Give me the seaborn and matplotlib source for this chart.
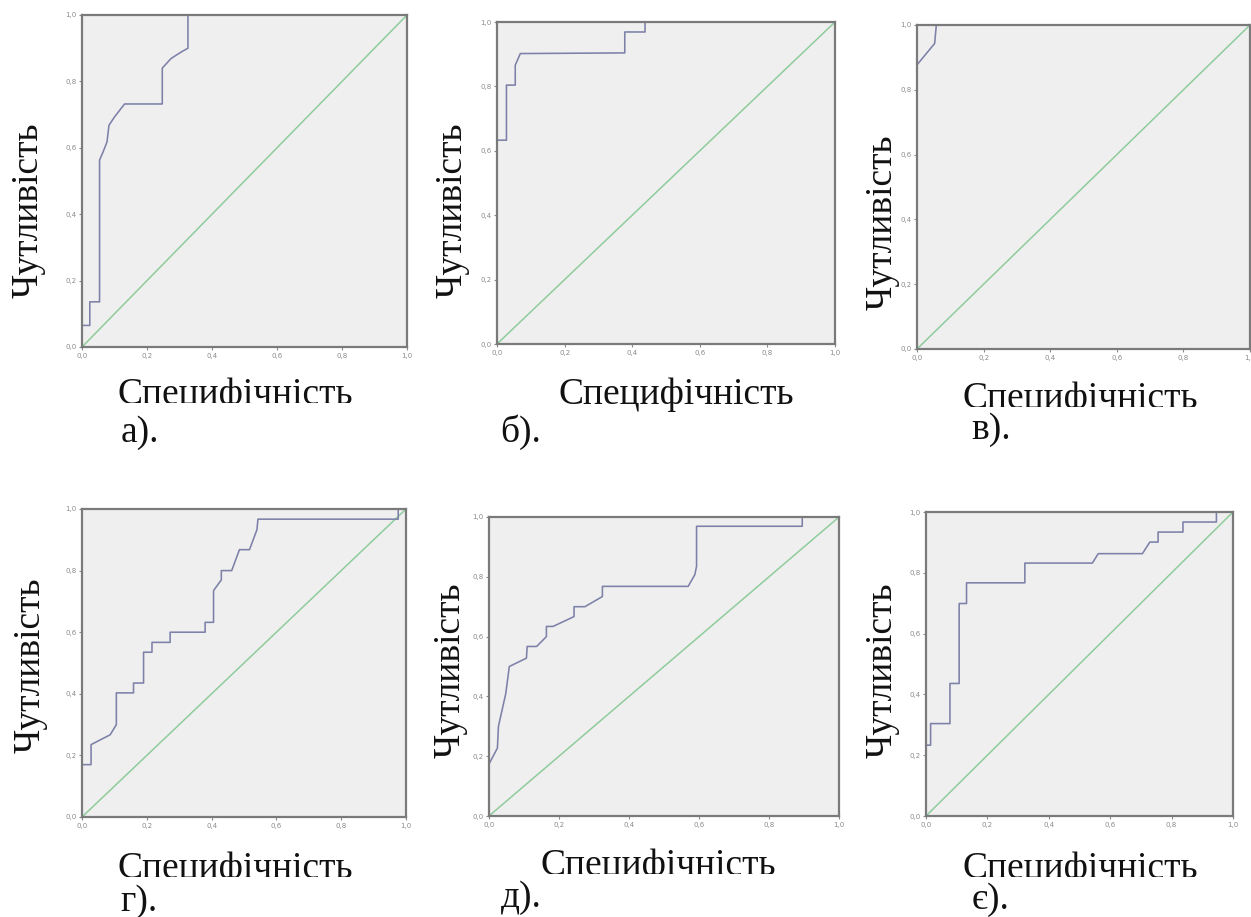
import matplotlib
matplotlib.use("Agg")
import matplotlib.pyplot as plt
import matplotlib.ticker as mticker
from matplotlib.transforms import Bbox
import numpy as np
import pandas as pd
import seaborn as sns

# ROC-криві (1 - специфічність, чутливість)
fpr_a = [0.0, 0.0, 0.024, 0.024, 0.054, 0.054, 0.065, 0.077, 0.083, 0.100, 0.131, 0.247, 0.247, 0.274, 0.306, 0.326, 0.326, 1.0]
tpr_a = [0.0, 0.065, 0.065, 0.136, 0.136, 0.563, 0.588, 0.618, 0.668, 0.693, 0.732, 0.732, 0.840, 0.869, 0.889, 0.900, 1.0, 1.0]

fpr_b = [0.0, 0.0, 0.028, 0.028, 0.054, 0.054, 0.069, 0.378, 0.378, 0.438, 0.438, 1.0]
tpr_b = [0.0, 0.633, 0.633, 0.804, 0.804, 0.866, 0.902, 0.904, 0.969, 0.969, 1.0, 1.0]

fpr_v = [0.0, 0.0, 0.053, 0.058, 1.0]
tpr_v = [0.0, 0.877, 0.943, 1.0, 1.0]

fpr_g = [0.0, 0.0, 0.028, 0.028, 0.087, 0.106, 0.106, 0.159, 0.159, 0.190, 0.190, 0.216, 0.216,
         0.272, 0.272, 0.380, 0.380, 0.406, 0.406, 0.430, 0.430, 0.462, 0.486, 0.517, 0.540, 0.543,
         0.976, 0.976, 1.0]
tpr_g = [0.0, 0.170, 0.170, 0.235, 0.267, 0.300, 0.403, 0.403, 0.435, 0.435, 0.535, 0.535, 0.567,
         0.567, 0.600, 0.600, 0.632, 0.632, 0.735, 0.770, 0.800, 0.800, 0.868, 0.868, 0.933, 0.967,
         0.967, 1.0, 1.0]

fpr_d = [0.0, 0.0, 0.024, 0.027, 0.048, 0.058, 0.107, 0.109, 0.136, 0.164, 0.164, 0.183, 0.243,
         0.243, 0.274, 0.324, 0.324, 0.569, 0.588, 0.593, 0.593, 0.895, 0.895, 1.0]
tpr_d = [0.0, 0.174, 0.227, 0.300, 0.410, 0.500, 0.528, 0.567, 0.567, 0.600, 0.634, 0.634, 0.667,
         0.700, 0.700, 0.734, 0.768, 0.768, 0.807, 0.835, 0.969, 0.969, 1.0, 1.0]

fpr_e = [0.0, 0.0, 0.015, 0.015, 0.078, 0.078, 0.108, 0.108, 0.132, 0.132, 0.322, 0.322, 0.542,
         0.561, 0.705, 0.729, 0.756, 0.756, 0.837, 0.837, 0.946, 0.946, 1.0]
tpr_e = [0.0, 0.233, 0.233, 0.304, 0.304, 0.436, 0.436, 0.699, 0.699, 0.767, 0.767, 0.832, 0.832,
         0.863, 0.863, 0.901, 0.901, 0.934, 0.934, 0.967, 0.967, 1.0, 1.0]

panel_labels = ["а).", "б).", "в).", "г).", "д).", "є)."]
curves = [(fpr_a, tpr_a), (fpr_b, tpr_b), (fpr_v, tpr_v),
          (fpr_g, tpr_g), (fpr_d, tpr_d), (fpr_e, tpr_e)]
ticks = [0.0, 0.2, 0.4, 0.6, 0.8, 1.0]

# положення осей у пікселях: лівий, правий, верх, низ
W, H = 1251, 917
boxes = [(82, 407, 15, 347), (497, 835, 22, 344), (917, 1250, 25, 349),
         (82, 406, 509, 817), (489, 839, 517, 816), (926, 1233, 512, 816)]
# підписи: (x підпису X, базова лінія підпису X, межа обрізання або None,
#           x підпису Y, y підпису Y, x літери, y літери)
texts = [(235, 404, 402.5, 28, 210, 140, 433),
         (676, 404, None, 452, 210, 521, 432),
         (1080, 408, 406.5, 882, 222, 991, 430),
         (235, 878, 876.5, 30, 665, 139, 902),
         (658, 875, 873.5, 450, 670, 521, 898),
         (1080, 878, 876.5, 882, 670, 991, 900)]

sns.set_theme(style="white")
plt.rcParams["font.family"] = ["DejaVu Sans"]
serif = ["Liberation Serif", "DejaVu Serif"]

fig = plt.figure(figsize=(W / 100, H / 100), dpi=100)
fig.patch.set_facecolor("white")

curve_col = "#7d81a8"
diag_col = "#8fcc9c"
spine_col = "#7a7a7a"

for (x0, x1, y0, y1), (fx, ty), lab, tx in zip(boxes, curves, panel_labels, texts):
    ax = fig.add_axes([x0 / W, 1 - y1 / H, (x1 - x0) / W, (y1 - y0) / H])
    ax.set_facecolor("#efefef")
    df = pd.DataFrame({"fpr": fx, "tpr": ty})
    diag = pd.DataFrame({"fpr": [0.0, 1.0], "tpr": [0.0, 1.0]})
    sns.lineplot(data=diag, x="fpr", y="tpr", ax=ax, color=diag_col, lw=1.1,
                 estimator=None, sort=False)
    sns.lineplot(data=df, x="fpr", y="tpr", ax=ax, color=curve_col, lw=1.15,
                 estimator=None, sort=False)
    ax.set_xlim(0, 1)
    ax.set_ylim(0, 1)
    ax.set_xticks(ticks)
    ax.set_yticks(ticks)
    fmt = mticker.FuncFormatter(lambda v, p: f"{v:.1f}".replace(".", ","))
    ax.xaxis.set_major_formatter(fmt)
    ax.yaxis.set_major_formatter(fmt)
    ax.tick_params(axis="both", labelsize=5, colors="#8a8a8a", length=2.5, width=0.8,
                   direction="out", pad=1.5, bottom=True, left=True)
    ax.set_xlabel("")
    ax.set_ylabel("")
    for s in ax.spines.values():
        s.set_color(spine_col)
        s.set_linewidth(1.6)

    xlx, xlb, clip_y, ylx, yly, lx, ly = tx
    t = fig.text(xlx / W, 1 - xlb / H, "Специфічність", ha="center", va="baseline",
                 fontsize=27, family=serif, color="#111111")
    if clip_y is not None:
        t.set_clip_box(Bbox.from_extents(0, H - clip_y, W, H))
        t.set_clip_on(True)
    fig.text(ylx / W, 1 - yly / H, "Чутливість", ha="center", va="center",
             rotation=90, fontsize=27, family=serif, color="#111111")
    fig.text(lx / W, 1 - ly / H, lab, ha="center", va="center",
             fontsize=27, family=serif, color="#111111")

fig.savefig("out.png", dpi=100)
